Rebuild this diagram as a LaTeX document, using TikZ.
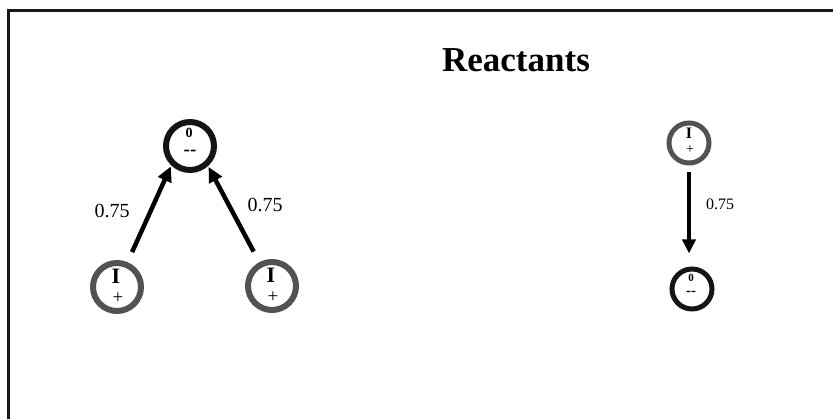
\documentclass[tikz,border=0pt]{standalone}
\usepackage{fontspec}
\setmainfont{Liberation Serif}
\usetikzlibrary{arrows.meta}
\begin{document}
\begin{tikzpicture}[x=1pt,y=-1pt,
  ring/.style={circle, draw, line width=6pt, minimum size=48pt, inner sep=0pt},
  smallring/.style={circle, draw, line width=5pt, minimum size=40pt, inner sep=0pt},
  darkring/.style={draw=black!92},
  greyring/.style={draw=black!68},
  arr/.style={line width=4.5pt, -{Triangle[length=15pt,width=14pt]}},
  thinarr/.style={line width=4pt, -{Triangle[length=14pt,width=13pt]}},
  weight/.style={font=\fontsize{20}{24}\selectfont},
  smallweight/.style={font=\fontsize{16}{19}\selectfont},
  sym/.style={font=\bfseries\fontsize{#1}{#1}\selectfont, inner sep=0pt},
  plus/.style={font=\fontsize{#1}{#1}\selectfont, inner sep=0pt}]
\useasboundingbox (0,0) rectangle (833,419);

% frame
\draw[line width=3pt, black!90] (8,425) -- (8,11) -- (840,11);

% title
\node[font=\bfseries\fontsize{35}{40}\selectfont, anchor=base] (title) at (516,72) {Reactants};

% left reaction: two I+ combine into 0--
\node[ring, darkring] (A) at (190,146) {};
\node[sym=14] (Atop) at (189,133) {0};
\node[sym=19] (Abot) at (190,153) {-{}-};

\node[ring, greyring] (B) at (117,287) {};
\node[sym=22] (Btop) at (116,276) {I};
\node[plus=19] (Bbot) at (118,298) {+};

\node[ring, greyring] (C) at (272,286) {};
\node[sym=22] (Ctop) at (271,275) {I};
\node[plus=19] (Cbot) at (273,297) {+};

\draw[arr, shorten <=11pt, shorten >=1pt] (B.67) -- (A.226);
\draw[arr, shorten <=12pt, shorten >=1pt] (C.118) -- (A.312);

\node[weight] (wB) at (112,211) {0.75};
\node[weight] (wC) at (265,205) {0.75};

% right reaction: I+ into 0--
\node[smallring, greyring] (D) at (689,143) {};
\node[sym=16] (Dtop) at (689,133) {I};
\node[plus=14] (Dbot) at (690,150) {+};

\node[smallring, darkring] (E) at (692,289) {};
\node[sym=11] (Etop) at (691,278) {0};
\node[sym=15] (Ebot) at (691,293) {-{}-};

\draw[thinarr, shorten <=7pt, shorten >=13pt] (D.south) -- (D.south |- E.north);

\node[smallweight] (wE) at (720,204) {0.75};
\end{tikzpicture}
\end{document}
